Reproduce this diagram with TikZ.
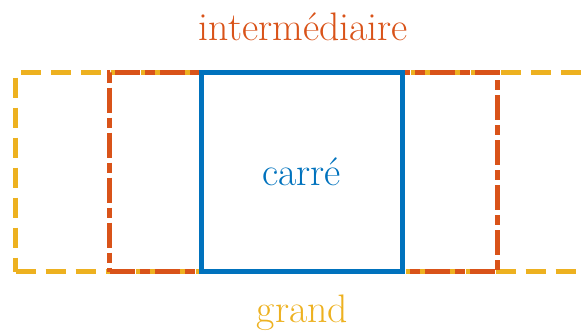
\documentclass[tikz,border=0pt]{standalone}
\usepackage{fontspec}
\definecolor{mblue}{HTML}{0072BD}
\definecolor{morange}{HTML}{D95319}
\definecolor{myellow}{HTML}{EDB120}
\begin{document}
\begin{tikzpicture}[x=0.5pt,y=-0.5pt,
  boxshape/.style={rectangle,inner sep=0pt,outer sep=0pt,line width=2.5pt},
  lbl/.style={inner sep=0pt,anchor=base,font=\fontsize{19.9}{24}\selectfont}]
\useasboundingbox (0,0) rectangle (585,334);
\begin{scope}
\clip (0,0) rectangle (585,334);
\node[boxshape,draw=myellow,dash pattern=on 10pt off 5pt,dash phase=0pt,
  minimum width=286.5pt,minimum height=99.5pt] (grand) at (302,172) {};
\node[boxshape,draw=morange,dash pattern=on 12.5pt off 2.5pt on 5pt off 2.5pt,
  minimum width=194pt,minimum height=99.5pt] (inter) at (303.6,172) {};
\node[boxshape,draw=mblue,minimum width=100.5pt,minimum height=99.5pt] (carre) at (302,172) {};
\end{scope}
\node[lbl,text=morange] (tinter) at (303.5,40) {intermédiaire};
\node[lbl,text=mblue] (tcarre) at (301.5,185) {carré};
\node[lbl,text=myellow] (tgrand) at (302.5,322) {grand};
\end{tikzpicture}
\end{document}
